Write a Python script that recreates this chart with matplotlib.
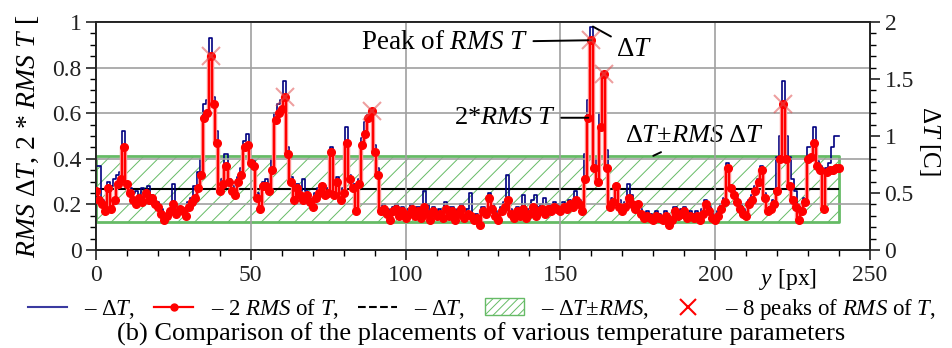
import numpy as np
import matplotlib
matplotlib.use('Agg')
import matplotlib.pyplot as plt
from matplotlib.lines import Line2D
from matplotlib.patches import Patch
from matplotlib.ticker import MultipleLocator, FuncFormatter

plt.rcParams['font.family'] = 'Liberation Serif'
plt.rcParams['mathtext.fontset'] = 'custom'
plt.rcParams['mathtext.rm'] = 'Liberation Serif'
plt.rcParams['mathtext.it'] = 'Liberation Serif:italic'
plt.rcParams['hatch.linewidth'] = 0.7
plt.rcParams['hatch.color'] = '#3a9a3a'

# 2*RMS of T (left axis), one value per pixel row y = 0..240
rms2 = [0.26, 0.22, 0.20, 0.17, 0.27, 0.18, 0.22, 0.29, 0.31, 0.45,
        0.29, 0.25, 0.22, 0.20, 0.23, 0.21, 0.25, 0.22, 0.23, 0.20,
        0.19, 0.16, 0.13, 0.15, 0.17, 0.20, 0.16, 0.18, 0.17, 0.15,
        0.19, 0.21, 0.23, 0.27, 0.33, 0.58, 0.60, 0.85, 0.64, 0.47,
        0.26, 0.29, 0.37, 0.30, 0.26, 0.24, 0.30, 0.33, 0.45, 0.46,
        0.38, 0.37, 0.23, 0.18, 0.28, 0.28, 0.26, 0.35, 0.57, 0.60,
        0.62, 0.67, 0.42, 0.30, 0.22, 0.27, 0.24, 0.22, 0.24, 0.21,
        0.19, 0.23, 0.25, 0.28, 0.24, 0.25, 0.43, 0.24, 0.30, 0.22,
        0.25, 0.47, 0.31, 0.27, 0.17, 0.29, 0.46, 0.51, 0.58, 0.61,
        0.43, 0.33, 0.17, 0.18, 0.16, 0.13, 0.17, 0.18, 0.15, 0.17,
        0.14, 0.16, 0.18, 0.15, 0.17, 0.14, 0.19, 0.16, 0.13, 0.17,
        0.15, 0.16, 0.14, 0.18, 0.15, 0.17, 0.13, 0.16, 0.18, 0.14,
        0.16, 0.15, 0.13, 0.14, 0.11, 0.17, 0.16, 0.23, 0.18, 0.15,
        0.13, 0.17, 0.19, 0.22, 0.16, 0.14, 0.17, 0.15, 0.18, 0.14,
        0.16, 0.19, 0.15, 0.17, 0.18, 0.16, 0.18, 0.17, 0.19, 0.18,
        0.17, 0.19, 0.18, 0.20, 0.19, 0.22, 0.20, 0.17, 0.31, 0.58,
        0.92, 0.36, 0.30, 0.54, 0.77, 0.36, 0.19, 0.21, 0.28, 0.19,
        0.17, 0.19, 0.23, 0.20, 0.18, 0.20, 0.16, 0.14, 0.15, 0.14,
        0.13, 0.15, 0.14, 0.13, 0.15, 0.11, 0.13, 0.17, 0.15, 0.16,
        0.17, 0.14, 0.15, 0.14, 0.15, 0.13, 0.16, 0.20, 0.17, 0.14,
        0.13, 0.15, 0.18, 0.21, 0.36, 0.27, 0.24, 0.21, 0.18, 0.16,
        0.15, 0.20, 0.22, 0.26, 0.30, 0.35, 0.23, 0.17, 0.18, 0.20,
        0.26, 0.40, 0.64, 0.40, 0.28, 0.22, 0.19, 0.13, 0.17, 0.21,
        0.40, 0.41, 0.47, 0.37, 0.35, 0.18, 0.34, 0.35, 0.35, 0.36,
        0.36]

# Delta T in C (right axis)
dT = [0.74, 0.74, 0.44, 0.40, 0.60, 0.56, 0.62, 0.66, 0.68, 1.04,
      0.60, 0.54, 0.50, 0.52, 0.48, 0.54, 0.52, 0.56, 0.48, 0.44,
      0.42, 0.36, 0.30, 0.32, 0.36, 0.58, 0.36, 0.38, 0.36, 0.34,
      0.42, 0.46, 0.56, 0.68, 0.80, 1.28, 1.32, 1.86, 1.34, 1.04,
      0.54, 0.62, 0.84, 0.62, 0.56, 0.52, 0.64, 0.72, 0.96, 1.02,
      0.80, 0.78, 0.50, 0.38, 0.60, 0.62, 0.58, 0.80, 1.20, 1.28,
      1.32, 1.48, 0.90, 0.64, 0.48, 0.58, 0.52, 0.62, 0.52, 0.46,
      0.42, 0.50, 0.54, 0.58, 0.54, 0.54, 0.90, 0.52, 0.64, 0.48,
      0.54, 1.08, 0.66, 0.58, 0.38, 0.62, 0.98, 1.12, 1.18, 1.24,
      0.92, 0.72, 0.38, 0.40, 0.36, 0.30, 0.38, 0.40, 0.34, 0.38,
      0.32, 0.36, 0.40, 0.34, 0.38, 0.32, 0.52, 0.40, 0.30, 0.38,
      0.34, 0.36, 0.32, 0.42, 0.34, 0.38, 0.30, 0.36, 0.40, 0.32,
      0.36, 0.50, 0.30, 0.32, 0.26, 0.38, 0.36, 0.50, 0.40, 0.34,
      0.30, 0.38, 0.42, 0.66, 0.36, 0.32, 0.38, 0.34, 0.48, 0.32,
      0.36, 0.44, 0.48, 0.38, 0.40, 0.46, 0.40, 0.38, 0.42, 0.40,
      0.38, 0.42, 0.40, 0.44, 0.42, 0.52, 0.44, 0.38, 0.84, 1.32,
      1.96, 0.80, 0.66, 1.20, 1.56, 0.88, 0.42, 0.46, 0.58, 0.44,
      0.40, 0.42, 0.58, 0.48, 0.40, 0.42, 0.36, 0.32, 0.34, 0.32,
      0.30, 0.34, 0.32, 0.30, 0.34, 0.26, 0.30, 0.38, 0.34, 0.36,
      0.38, 0.32, 0.34, 0.32, 0.34, 0.30, 0.36, 0.44, 0.38, 0.32,
      0.30, 0.34, 0.40, 0.46, 0.76, 0.56, 0.52, 0.46, 0.40, 0.36,
      0.34, 0.44, 0.48, 0.56, 0.62, 0.74, 0.50, 0.38, 0.38, 0.44,
      0.82, 1.00, 1.48, 1.00, 0.82, 0.62, 0.52, 0.30, 0.38, 0.46,
      0.90, 0.90, 1.08, 0.78, 0.74, 0.68, 0.72, 0.76, 0.90, 1.00,
      1.00]

y_px = np.arange(len(rms2))
peaks = [37, 61, 89, 160, 164, 222]
dT_mean = 0.538
dT_rms = 0.288

fig = plt.figure(figsize=(9.52, 3.48), dpi=100)
ax = fig.add_axes([0.1008, 0.2816, 0.8131, 0.6552])
ax2 = ax.twinx()
ax2.set_zorder(ax.get_zorder() - 1)
ax.patch.set_visible(False)

# right axis: Delta T, band, mean
ax2.fill_between([y_px[0], y_px[-1]], dT_mean - dT_rms, dT_mean + dT_rms,
                 facecolor='white', edgecolor='#66bb66', hatch='//', linewidth=2, zorder=1)
ax2.hlines(dT_mean, y_px[0], y_px[-1], color='black', linewidth=1.5, zorder=2)
ax2.plot(y_px, dT, drawstyle='steps-mid', color='#000080', linewidth=1.2, zorder=3)
ax2.set_ylim(0, 2)
ax2.set_xlim(0, 250)

# left axis: 2*RMS of T and peaks
ax.plot(y_px, rms2, drawstyle='steps-mid', color='#ff9a9a', linewidth=3.2, zorder=2)
ax.plot(y_px, rms2, drawstyle='steps-mid', color='red', linewidth=1.6, zorder=3)
ax.plot(y_px, rms2, 'o', color='red', markersize=5.5, zorder=3)
ax.plot(peaks, [rms2[p] for p in peaks], 'x', color='#e05050', alpha=0.55,
        markersize=13, markeredgewidth=1.5, zorder=4)
ax.set_xlim(0, 250)
ax.set_ylim(0, 1)

ax.grid(True, color='#a0a0a0', linewidth=1.2)
ax.xaxis.set_major_locator(MultipleLocator(50))
ax.xaxis.set_minor_locator(MultipleLocator(10))
ax.yaxis.set_major_locator(MultipleLocator(0.2))
ax.yaxis.set_minor_locator(MultipleLocator(0.05))
ax2.yaxis.set_major_locator(MultipleLocator(0.5))
ax2.yaxis.set_minor_locator(MultipleLocator(0.1))
fmt = FuncFormatter(lambda v, p: '%g' % round(v, 3))
ax.yaxis.set_major_formatter(fmt)
ax2.yaxis.set_major_formatter(fmt)
for a in (ax, ax2):
    a.tick_params(which='major', length=7, width=1.2, labelsize=17, colors='#222222')
    a.tick_params(which='minor', length=4, width=1.0)
    for s in a.spines.values():
        s.set_linewidth(1.3)
        s.set_color('#222222')

# annotations
akw = dict(arrowstyle='-', color='black', lw=1.4, shrinkA=2, shrinkB=0)
ax.annotate('Peak of $RMS\\ T$', xy=(160, rms2[160]), xytext=(139.5, 0.91),
            ha='right', va='center', fontsize=19.5, arrowprops=akw)
ax.annotate('$2$*$RMS\\ T$', xy=(159, rms2[159]), xytext=(148.5, 0.58),
            ha='right', va='center', fontsize=19, arrowprops=akw)
ax2.annotate('Δ$T$', xy=(160.5, dT[160]), xytext=(168, 1.76),
             ha='left', va='center', fontsize=19.5, arrowprops=akw)
ax2.annotate('Δ$T$±$RMS$ Δ$T$', xy=(180, dT_mean + dT_rms), xytext=(171, 1.0),
             ha='left', va='center', fontsize=19,
             arrowprops=dict(arrowstyle='-', color='black', lw=1.4, shrinkA=4, shrinkB=0))

# axis labels (the left one is truncated at the top in the original)
fig.text(0.029, 1 - 258 / 348, '$RMS$ Δ$T$, 2 * $RMS$ $T$ [', rotation=90,
         ha='center', va='bottom', fontsize=20)
fig.text(0.976, 1 - 141 / 348, 'Δ$T$ [C]', rotation=270, ha='center', va='center', fontsize=18)
fig.text(788 / 952, 1 - 280 / 348, '$y$ [px]', ha='center', va='center', fontsize=17)

handles = [Line2D([], [], color='#3a3aa0', linewidth=1.5),
           Line2D([], [], color='red', linewidth=1.6, marker='o', markersize=5),
           Line2D([], [], color='black', linewidth=1.5, linestyle='--'),
           Patch(facecolor='white', edgecolor='#66bb66', hatch='////'),
           Line2D([], [], color='red', marker='x', linestyle='none', markersize=11, markeredgewidth=1.5)]
labels = ['– Δ$T$,', '– $2\\ RMS$ of $T$,', '– Δ$T$,', '– Δ$T$±$RMS$,',
          '– 8 peaks of $RMS$ of $T$,']
fig.legend(handles, labels, loc='center', bbox_to_anchor=(0.506, 0.112), ncol=5,
           frameon=False, fontsize=16.5, handlelength=1.7, handletextpad=0.75,
           columnspacing=0.85, borderpad=0, borderaxespad=0)
fig.text(0.505, 0.022, '(b) Comparison of the placements of various temperature parameters',
         ha='center', va='baseline', fontsize=19)

fig.savefig('out.png', dpi=100)
